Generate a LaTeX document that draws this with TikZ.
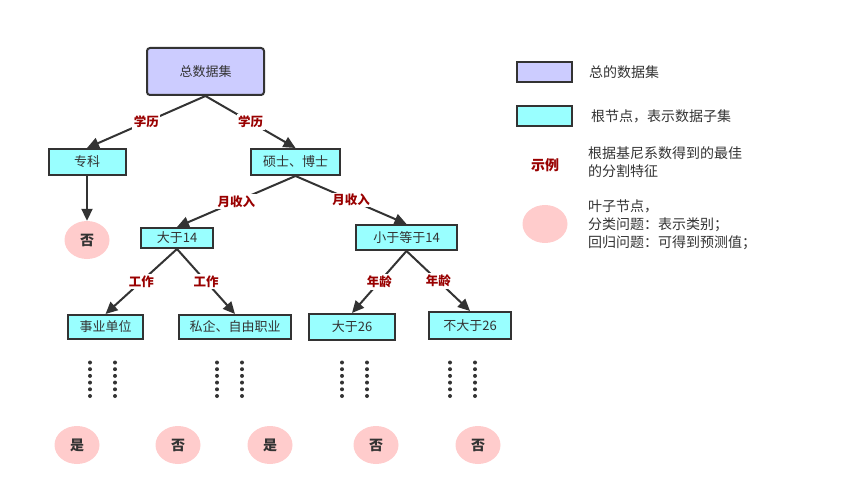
\documentclass[tikz,border=0pt]{standalone}
\usepackage{fontspec}
\setmainfont{Noto Sans CJK SC}
\usetikzlibrary{arrows.meta,shapes.geometric}
\definecolor{ink}{HTML}{333333}
\definecolor{rootfill}{HTML}{CCCCFF}
\definecolor{subfill}{HTML}{99FFFF}
\definecolor{leaffill}{HTML}{FFCCCC}
\definecolor{featred}{HTML}{990000}
\tikzset{
  base/.style={text=ink, inner sep=0pt, font=\fontsize{13}{15}\selectfont},
  rootbox/.style={base, draw=ink, line width=2pt, fill=rootfill, rounded corners=3pt},
  subbox/.style={base, draw=ink, line width=2pt, fill=subfill},
  leaf/.style={ellipse, fill=leaffill, text=ink, inner sep=0pt,
    minimum width=45pt, minimum height=38pt, font=\fontsize{14}{16}\selectfont\bfseries},
  feat/.style={text=featred, fill=white, inner sep=1.5pt, font=\fontsize{12.5}{14}\selectfont\bfseries},
  link/.style={draw=ink, line width=2pt, -{Triangle[length=12pt,width=11pt]}},
  legtext/.style={text=ink, anchor=west, align=left, inner sep=0pt,
    font=\fontsize{14}{18}\selectfont},
  dot/.style={fill=ink, draw=none}
}
\begin{document}
\begin{tikzpicture}[x=1pt,y=-1pt]
\useasboundingbox (0,0) rectangle (846,497);

% tree nodes
\node[rootbox, minimum width=117pt, minimum height=47pt] (root) at (205.5,71.5) {总数据集};
\node[subbox, minimum width=77pt, minimum height=26pt] (zk) at (87,162) {专科};
\node[subbox, minimum width=89pt, minimum height=26pt] (ss) at (295.5,162) {硕士、博士};
\node[leaf] (no1) at (87,240) {否};
\node[subbox, minimum width=72pt, minimum height=20pt] (gt14) at (177,238) {大于14};
\node[subbox, minimum width=101pt, minimum height=25pt] (le14) at (406.5,237.5) {小于等于14};
\node[subbox, minimum width=75pt, minimum height=24pt] (sy) at (105.5,327) {事业单位};
\node[subbox, minimum width=112pt, minimum height=24pt] (sq) at (235,327) {私企、自由职业};
\node[subbox, minimum width=86pt, minimum height=26pt] (gt26) at (352,327) {大于26};
\node[subbox, minimum width=82pt, minimum height=27pt] (le26) at (470,325.5) {不大于26};

% connectors with splitting features
\draw[link] (root.south) -- node[feat] {学历} (zk.north);
\draw[link] (root.south) -- node[feat] {学历} (ss.north);
\draw[link] (zk.south) -- (no1.north);
\draw[link] (ss.south) -- node[feat] {月收入} (gt14.north);
\draw[link] (ss.south) -- node[feat] {月收入} (le14.north);
\draw[link] (gt14.south) -- node[feat] {工作} (sy.north);
\draw[link] (gt14.south) -- node[feat] {工作} (sq.north);
\draw[link] (le14.south) -- node[feat] {年龄} (gt26.north);
\draw[link] (le14.south) -- node[feat] {年龄} (le26.north);

% dotted continuation marks
\foreach \cx in {90,115,217,242,342,367,450,475}
  \foreach \k in {0,...,5}
    \fill[dot] (\cx,362.5+\k*6.7) circle (2pt);

% leaves
\node[leaf] (l1) at (77,445) {是};
\node[leaf] (l2) at (178,445) {否};
\node[leaf] (l3) at (270,445) {是};
\node[leaf] (l4) at (376,445) {否};
\node[leaf] (l5) at (478,445) {否};

% legend
\node[rootbox, rounded corners=0pt, minimum width=55pt, minimum height=20pt] (kroot) at (544.5,72) {};
\node[legtext] (troot) at (589,72) {总的数据集};
\node[subbox, minimum width=55pt, minimum height=20pt] (ksub) at (544.5,116) {};
\node[legtext] (tsub) at (591,116) {根节点，表示数据子集};
\node[feat, font=\fontsize{14}{16}\selectfont\bfseries] (kfeat) at (545,165) {示例};
\node[legtext] (tfeat) at (588,162) {根据基尼系数得到的最佳\\的分割特征};
\node[leaf] (kleaf) at (545,224) {};
\node[legtext] (tleaf) at (588,225) {叶子节点，\\分类问题：表示类别；\\回归问题：可得到预测值；};
\end{tikzpicture}
\end{document}
